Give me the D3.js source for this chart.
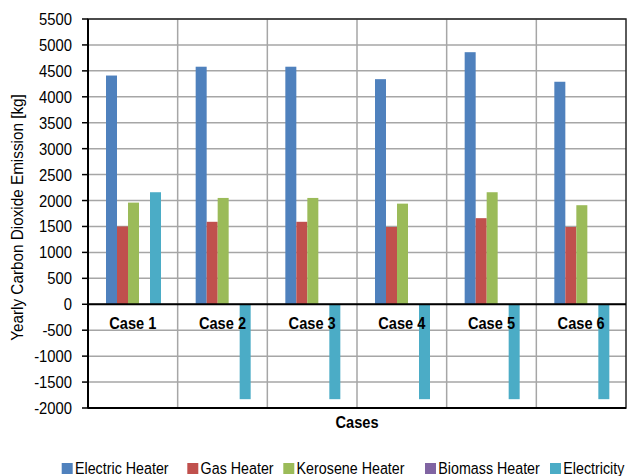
<!DOCTYPE html>
<html>
<head>
<meta charset="utf-8">
<script src="https://cdn.jsdelivr.net/npm/d3@7"></script>
<style>
  html, body { margin: 0; padding: 0; background: #fff; }
  svg { display: block; font-family: "Liberation Sans", Arial, sans-serif; }
</style>
</head>
<body>
<svg id="chart" width="627" height="476"></svg>
<script>
// Yearly CO2 emission per heating option, for six cases
const categories = ["Case 1", "Case 2", "Case 3", "Case 4", "Case 5", "Case 6"];
const seriesNames = ["Electric Heater", "Gas Heater", "Kerosene Heater", "Biomass Heater", "Electricity"];
const seriesColors = ["#4F81BD", "#C0504D", "#9BBB59", "#8064A2", "#4BACC6"];

const electricHeater = [4410, 4580, 4580, 4340, 4860, 4290];
const gasHeater      = [1500, 1590, 1590, 1490, 1660, 1490];
const keroseneHeater = [1960, 2050, 2050, 1940, 2160, 1910];
const biomassHeater  = [0, 0, 0, 0, 0, 0];
const electricity    = [2160, -1830, -1830, -1830, -1830, -1830];
const seriesValues = [electricHeater, gasHeater, keroseneHeater, biomassHeater, electricity];

const yTickValues = [5500, 5000, 4500, 4000, 3500, 3000, 2500, 2000, 1500, 1000, 500, 0, -500, -1000, -1500, -2000];
const yTickLabels = ["5500", "5000", "4500", "4000", "3500", "3000", "2500", "2000", "1500", "1000", "500", "0", "-500", "-1000", "-1500", "-2000"];
const yTitle = "Yearly Carbon Dioxide Emission [kg]";
const xTitle = "Cases";

// layout
const plot = { left: 88, right: 626, top: 19, bottom: 408 };
const legendItemX = [61.7, 187.3, 283.3, 425, 550];
const svg = d3.select("#chart");

const x0 = d3.scaleBand().domain(categories).range([plot.left, plot.right]).padding(0);
const barW = 11;
const groupOffset = 18;
const x1 = d3.scaleBand().domain(seriesNames)
  .range([groupOffset, groupOffset + barW * seriesNames.length]).padding(0);
const y = d3.scaleLinear().domain([-2000, 5500]).range([plot.bottom, plot.top]);

// horizontally condensed text (narrow typeface look)
function label(g, txt, x, yy, opts) {
  return g.append("text")
    .attr("transform", `translate(${x},${yy})` + (opts.rotate ? ` rotate(${opts.rotate})` : "") + ` scale(${opts.sx || 1},1)`)
    .attr("font-size", opts.size || 17)
    .attr("font-weight", opts.weight || "normal")
    .attr("text-anchor", opts.anchor || "start")
    .attr("fill", "#000")
    .text(txt);
}

// horizontal gridlines
svg.append("g").selectAll("line").data(yTickValues).join("line")
  .attr("x1", plot.left).attr("x2", plot.right)
  .attr("y1", d => y(d)).attr("y2", d => y(d))
  .attr("stroke", "#A6A6A6").attr("stroke-width", 1.5);

// vertical category separators
svg.append("g").selectAll("line").data(categories.slice(1)).join("line")
  .attr("x1", d => x0(d)).attr("x2", d => x0(d))
  .attr("y1", plot.top).attr("y2", plot.bottom)
  .attr("stroke", "#A6A6A6").attr("stroke-width", 1.5);

// bars
const groups = svg.append("g").selectAll("g").data(categories).join("g")
  .attr("transform", d => `translate(${x0(d)},0)`);
groups.selectAll("rect")
  .data((c, ci) => seriesNames.map((s, si) => ({ s, v: seriesValues[si][ci], color: seriesColors[si] })))
  .join("rect")
  .attr("x", d => x1(d.s))
  .attr("width", x1.bandwidth())
  .attr("y", d => y(Math.max(0, d.v)))
  .attr("height", d => Math.abs(y(d.v) - y(0)))
  .attr("fill", d => d.color);

// plot frame
svg.append("rect")
  .attr("x", plot.left).attr("y", plot.top)
  .attr("width", plot.right - plot.left).attr("height", plot.bottom - plot.top)
  .attr("fill", "none").attr("stroke", "#262626").attr("stroke-width", 1.5);

// left axis, zero line and bottom line
svg.append("line").attr("x1", plot.left).attr("x2", plot.left)
  .attr("y1", plot.top).attr("y2", plot.bottom).attr("stroke", "#000").attr("stroke-width", 2);
svg.append("line").attr("x1", plot.left).attr("x2", plot.right)
  .attr("y1", y(0)).attr("y2", y(0)).attr("stroke", "#000").attr("stroke-width", 2);
svg.append("line").attr("x1", plot.left).attr("x2", plot.right)
  .attr("y1", plot.bottom).attr("y2", plot.bottom).attr("stroke", "#000").attr("stroke-width", 2);

// y ticks and labels
const yAxisG = svg.append("g");
yTickValues.forEach((v, i) => {
  yAxisG.append("line").attr("x1", plot.left - 6).attr("x2", plot.left)
    .attr("y1", y(v)).attr("y2", y(v)).attr("stroke", "#000").attr("stroke-width", 1.5);
  label(yAxisG, yTickLabels[i], 72, y(v) + 6, { anchor: "end", sx: 0.87, size: 17 });
});

// category labels inside plot, under the zero line
const catG = svg.append("g");
categories.forEach(c => {
  label(catG, c, x0(c) + x0.bandwidth() / 2, y(0) + 25, { anchor: "middle", weight: "bold", sx: 0.86, size: 17 });
});

// axis titles
label(svg, xTitle, (plot.left + plot.right) / 2, 428, { anchor: "middle", weight: "bold", sx: 0.86, size: 17 });
label(svg, yTitle, 23, 217.5, { anchor: "middle", rotate: -90, sx: 0.9, size: 17 });

// legend (last entry runs to the right edge of the page)
const legend = svg.append("g");
seriesNames.forEach((name, i) => {
  const lx = legendItemX[i];
  legend.append("rect").attr("x", lx).attr("y", 463).attr("width", 11).attr("height", 11)
    .attr("fill", seriesColors[i]);
  label(legend, name, lx + 13.3, 474, { sx: 0.84, size: 17 });
});
</script>
</body>
</html>
